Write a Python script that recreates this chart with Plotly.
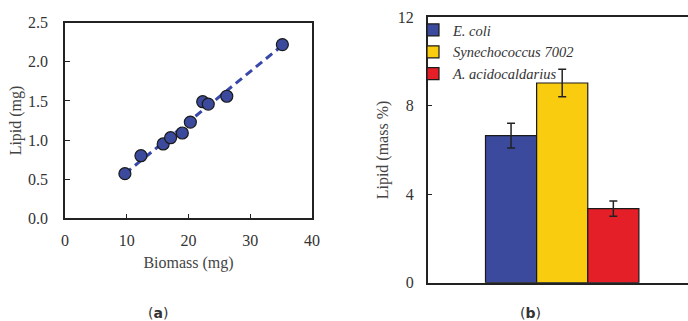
import plotly.graph_objects as go

# ---- data: panel (a) ----
biomass_mg = [9.7, 12.3, 15.9, 17.1, 19.0, 20.3, 22.3, 23.2, 26.2, 35.2]
lipid_mg = [0.57, 0.80, 0.95, 1.03, 1.09, 1.23, 1.49, 1.46, 1.56, 2.22]
fit_x = [9.7, 35.2]
fit_y = [0.57, 2.21]

# ---- data: panel (b) ----
organisms = ["E. coli", "Synechococcus 7002", "A. acidocaldarius"]
lipid_pct = [6.65, 9.03, 3.35]
lipid_err = [0.56, 0.62, 0.34]
bar_colors = ["#3b4a9c", "#f9cc10", "#e41f27"]

FONT = "Liberation Serif"
W, H = 688, 321
AX = "#222222"

fig = go.Figure()

fig.add_trace(go.Scatter(
    x=fit_x, y=fit_y, mode="lines",
    line=dict(color="#3748a8", width=3, dash="8px,5px"),
    xaxis="x", yaxis="y", showlegend=False))
fig.add_trace(go.Scatter(
    x=biomass_mg, y=lipid_mg, mode="markers",
    marker=dict(size=12, color="#3b4a9c", line=dict(color="#1a1a1a", width=1.2)),
    xaxis="x", yaxis="y", showlegend=False))

n = len(organisms)
for i, (name, v, e, c) in enumerate(zip(organisms, lipid_pct, lipid_err, bar_colors)):
    fig.add_trace(go.Bar(
        x=[i - (n - 1) / 2], y=[v], width=1,
        name="<i>" + name + "</i>",
        marker=dict(color=c, line=dict(color="#1a1a1a", width=1.2)),
        error_y=dict(type="data", array=[e], color="#222222", thickness=1.5, width=4),
        xaxis="x2", yaxis="y2"))

def px_x(a, b):
    return [a / W, b / W]

def px_y(top, bottom):
    return [(H - bottom) / H, (H - top) / H]

tickfont = dict(family=FONT, size=16, color="#333333")
titlefont = dict(family=FONT, size=16, color="#444444")

fig.update_layout(
    width=W, height=H,
    margin=dict(l=0, r=0, t=0, b=0, autoexpand=False),
    paper_bgcolor="white", plot_bgcolor="white",
    barmode="overlay",
    font=dict(family=FONT, size=14, color="#333333"),
    xaxis=dict(domain=px_x(65, 312), range=[0, 40], tickvals=[0, 10, 20, 30, 40],
               anchor="y", automargin=False,
               showline=True, linecolor=AX, linewidth=1.5, mirror=True,
               ticks="inside", ticklen=5, tickcolor=AX, showgrid=False, zeroline=False,
               tickfont=tickfont, ticklabelstandoff=7,
               title=dict(text="Biomass (mg)", font=titlefont, standoff=9)),
    yaxis=dict(domain=px_y(22.7, 218.3), range=[0, 2.5], anchor="x", automargin=False,
               tickvals=[0, 0.5, 1.0, 1.5, 2.0, 2.5], ticktext=["0.0", "0.5", "1.0", "1.5", "2.0", "2.5"],
               showline=True, linecolor=AX, linewidth=1.5, mirror=True,
               ticks="inside", ticklen=5, tickcolor=AX, showgrid=False, zeroline=False,
               tickfont=tickfont, ticklabelstandoff=12,
               title=dict(text="Lipid (mg)", font=titlefont, standoff=2)),
    xaxis2=dict(domain=px_x(427.7, 688), range=[-2.63, 2.46], anchor="y2", automargin=False,
                showline=True, linecolor=AX, linewidth=1.5, mirror=True,
                ticks="", showticklabels=False, showgrid=False, zeroline=False),
    yaxis2=dict(domain=px_y(17.3, 282.7), range=[0, 12], tickvals=[0, 4, 8, 12],
                anchor="x2", automargin=False,
                showline=True, linecolor=AX, linewidth=1.5, mirror=False,
                ticks="inside", ticklen=5, tickcolor=AX, showgrid=False, zeroline=False,
                tickfont=tickfont, ticklabelstandoff=9,
                title=dict(text="Lipid (mass %)", font=titlefont, standoff=5)),
    legend=dict(x=413 / W, y=(H - 14) / H, xanchor="left", yanchor="top",
                bgcolor="rgba(0,0,0,0)", itemwidth=30, tracegroupgap=0,
                font=dict(family=FONT, size=14.5, color="#333333")),
    annotations=[
        dict(text="(<b>a</b>)", x=158 / W, y=(H - 313) / H, xref="paper", yref="paper",
             xanchor="center", yanchor="middle",
             showarrow=False, font=dict(family="DejaVu Sans", size=14, color="#333333")),
        dict(text="(<b>b</b>)", x=530 / W, y=(H - 313) / H, xref="paper", yref="paper",
             xanchor="center", yanchor="middle",
             showarrow=False, font=dict(family="DejaVu Sans", size=14, color="#333333")),
    ],
)

fig.write_html("out.html", config={"displayModeBar": False},
               post_script="document.body.style.margin='0';")
